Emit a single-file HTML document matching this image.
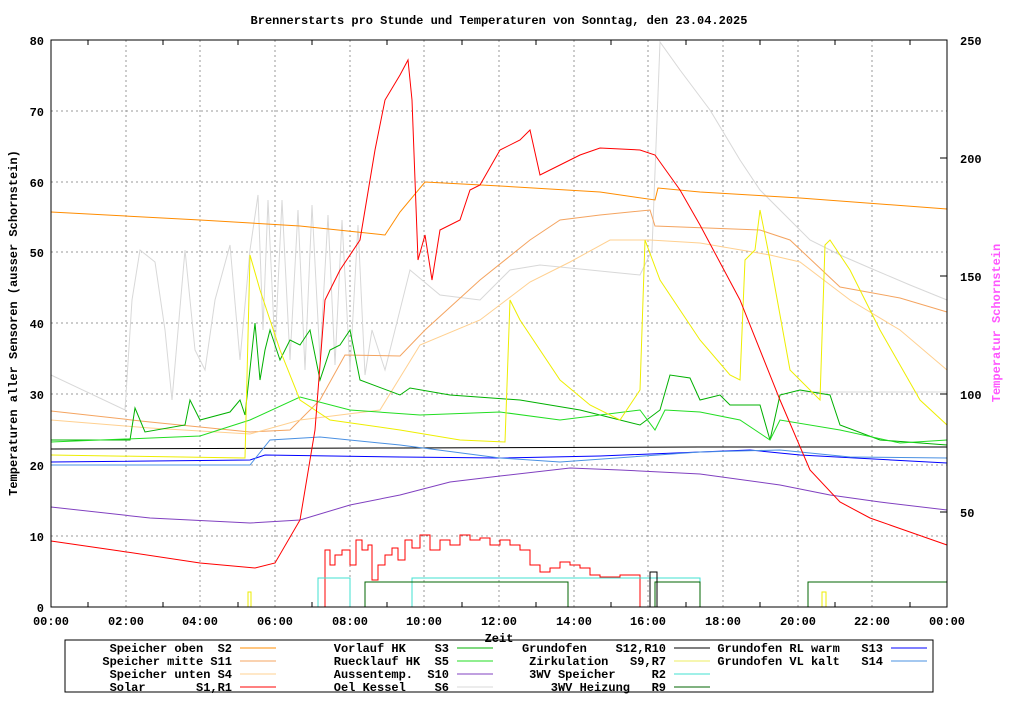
<!DOCTYPE html>
<html><head><meta charset="utf-8"><style>
body{margin:0;background:#fff}
svg text{font-family:"Liberation Mono",monospace;font-weight:bold;font-size:12px;fill:#000;white-space:pre}
</style></head><body>
<svg width="1024" height="700" xmlns="http://www.w3.org/2000/svg" xml:space="preserve">
<rect width="1024" height="700" fill="#fff"/>
<text x="499" y="24" text-anchor="middle">Brennerstarts pro Stunde und Temperaturen von Sonntag, den 23.04.2025</text>
<g stroke="#999" stroke-dasharray="2,3" stroke-width="1">
<line x1="51" y1="536" x2="947" y2="536"/><line x1="51" y1="465" x2="947" y2="465"/><line x1="51" y1="394" x2="947" y2="394"/><line x1="51" y1="323" x2="947" y2="323"/><line x1="51" y1="252" x2="947" y2="252"/><line x1="51" y1="182" x2="947" y2="182"/><line x1="51" y1="111" x2="947" y2="111"/>
<line x1="126" y1="40" x2="126" y2="607"/><line x1="200" y1="40" x2="200" y2="607"/><line x1="275" y1="40" x2="275" y2="607"/><line x1="350" y1="40" x2="350" y2="607"/><line x1="424" y1="40" x2="424" y2="607"/><line x1="499" y1="40" x2="499" y2="607"/><line x1="574" y1="40" x2="574" y2="607"/><line x1="648" y1="40" x2="648" y2="607"/><line x1="723" y1="40" x2="723" y2="607"/><line x1="798" y1="40" x2="798" y2="607"/><line x1="872" y1="40" x2="872" y2="607"/>
</g>
<g fill="none" stroke-width="1">
<polyline stroke="#d8d8d8" points="51,375 125,410 132,300 140,250 155,262 165,330 172,400 185,250 195,350 205,370 215,300 230,245 240,360 250,250 258,195 263,330 268,200 275,350 282,200 290,360 298,210 305,370 312,205 320,360 328,215 335,365 342,220 350,370 358,225 365,375 372,330 385,370 410,270 440,295 480,300 510,270 540,265 590,270 640,275 652,250 660,42 680,70 710,110 740,160 760,190 790,220 810,240 840,255 870,268 910,285 947,300"/>
<polyline stroke="#d8d8d8" points="800,392 947,392"/>
<polyline stroke="#ff8c00" points="51,212 200,220 300,226 385,235 400,212 425,182 500,186 600,192 655,200 658,188 700,192 800,198 947,209"/>
<polyline stroke="#f4a460" points="51,411 150,422 250,432 290,430 320,400 345,355 400,356 425,330 480,280 530,240 560,220 600,215 650,210 655,226 760,230 790,240 840,287 900,298 947,312"/>
<polyline stroke="#ffd090" points="51,420 150,428 250,434 300,420 380,410 420,345 480,320 530,282 570,262 610,240 650,240 700,243 770,255 800,262 850,300 900,330 947,370"/>
<polyline stroke="#00b000" points="51,440 130,440 135,408 145,432 185,425 190,400 200,420 230,412 240,400 245,415 255,323 260,380 265,350 270,330 280,360 290,340 300,345 310,330 320,380 330,350 340,345 350,330 360,380 400,395 410,388 450,395 520,400 580,410 620,420 640,425 660,410 670,375 690,378 700,400 720,395 730,405 760,405 770,440 780,395 800,390 830,395 840,425 880,440 947,445"/>
<polyline stroke="#22dd22" points="51,442 200,436 250,420 300,397 350,410 420,415 500,412 560,420 600,415 640,410 655,430 665,410 700,412 740,420 770,440 780,420 840,430 900,443 947,440"/>
<polyline stroke="#8040c0" points="51,507 150,518 250,523 300,520 350,505 400,495 450,482 500,476 570,468 620,470 700,474 780,485 830,495 880,502 947,510"/>
<polyline stroke="#000" points="51,449 400,448 700,447 947,447"/>
<polyline stroke="#0000ff" points="51,462 250,460 265,455 400,457 500,458 600,456 700,452 750,450 800,455 947,463"/>
<polyline stroke="#4a90e2" points="51,465 250,465 270,440 320,437 400,445 500,458 560,462 700,452 780,450 850,457 947,458"/>
<polyline stroke="#eeee00" points="51,455 245,458 250,255 260,290 280,350 300,400 330,420 400,430 460,440 505,442 510,300 520,320 560,380 590,405 620,420 640,390 645,240 660,280 700,340 730,375 740,380 745,260 755,250 760,210 770,260 790,370 820,400 825,245 830,240 850,270 880,330 920,400 947,425"/>
<polyline stroke="#ff0000" points="51,541 120,551 200,563 255,568 275,563 300,520 315,430 325,300 340,270 360,240 375,150 385,100 400,75 408,60 412,100 418,260 425,235 432,280 440,230 460,220 470,190 480,185 500,150 520,140 530,130 540,175 560,165 580,155 600,148 640,150 655,155 680,190 700,225 740,300 780,400 810,470 840,502 870,518 947,545"/>
<polyline stroke="#ff0000" points="325,607 325,550 330,550 330,565 335,565 335,555 342,555 342,550 350,550 350,565 356,565 356,540 362,540 362,550 368,550 368,545 372,545 372,580 378,580 378,565 385,565 385,555 392,555 392,548 398,548 398,560 405,560 405,540 412,540 412,548 420,548 420,535 430,535 430,550 440,550 440,540 450,540 450,545 460,545 460,535 470,535 470,540 480,540 480,538 490,538 490,545 500,545 500,540 510,540 510,545 520,545 520,550 530,550 530,565 540,565 540,572 550,572 550,568 560,568 560,562 570,562 570,565 580,565 580,568 590,568 590,575 600,575 600,577 620,577 620,575 640,575 640,607"/>
<polyline stroke="#40e0d0" points="318,607 318,578 350,578 350,607 412,607 412,578 700,578 700,607"/>
<polyline stroke="#006400" points="365,607 365,582 568,582 568,607 655,607 655,582 700,582 700,607 808,607 808,582 947,582"/>
<polyline stroke="#000" points="650,607 650,572 657,572 657,607"/>
<polyline stroke="#eeee00" points="248,607 248,592 251,592 251,607 822,607 822,592 826,592 826,607"/>
</g>
<rect x="51" y="40" width="896" height="567" fill="none" stroke="#000"/>
<g stroke="#000">
<line x1="88" y1="607" x2="88" y2="602"/><line x1="163" y1="607" x2="163" y2="602"/><line x1="238" y1="607" x2="238" y2="602"/><line x1="312" y1="607" x2="312" y2="602"/><line x1="387" y1="607" x2="387" y2="602"/><line x1="462" y1="607" x2="462" y2="602"/><line x1="536" y1="607" x2="536" y2="602"/><line x1="611" y1="607" x2="611" y2="602"/><line x1="686" y1="607" x2="686" y2="602"/><line x1="760" y1="607" x2="760" y2="602"/><line x1="835" y1="607" x2="835" y2="602"/><line x1="910" y1="607" x2="910" y2="602"/>
<line x1="88" y1="40" x2="88" y2="45"/><line x1="163" y1="40" x2="163" y2="45"/><line x1="238" y1="40" x2="238" y2="45"/><line x1="312" y1="40" x2="312" y2="45"/><line x1="387" y1="40" x2="387" y2="45"/><line x1="462" y1="40" x2="462" y2="45"/><line x1="536" y1="40" x2="536" y2="45"/><line x1="611" y1="40" x2="611" y2="45"/><line x1="686" y1="40" x2="686" y2="45"/><line x1="760" y1="40" x2="760" y2="45"/><line x1="835" y1="40" x2="835" y2="45"/><line x1="910" y1="40" x2="910" y2="45"/>
<line x1="947" y1="158" x2="940" y2="158"/><line x1="947" y1="276" x2="940" y2="276"/><line x1="947" y1="394" x2="940" y2="394"/><line x1="947" y1="512" x2="940" y2="512"/>
</g>
<g text-anchor="end">
<text x="44" y="45">80</text><text x="44" y="116">70</text><text x="44" y="187">60</text><text x="44" y="257">50</text><text x="44" y="328">40</text><text x="44" y="399">30</text><text x="44" y="470">20</text><text x="44" y="541">10</text><text x="44" y="612">0</text>
</g>
<g>
<text x="960" y="45">250</text><text x="960" y="163">200</text><text x="960" y="281">150</text><text x="960" y="399">100</text><text x="960" y="517">50</text>
</g>
<g text-anchor="middle">
<text x="51" y="625">00:00</text><text x="126" y="625">02:00</text><text x="200" y="625">04:00</text><text x="275" y="625">06:00</text><text x="350" y="625">08:00</text><text x="424" y="625">10:00</text><text x="499" y="625">12:00</text><text x="574" y="625">14:00</text><text x="648" y="625">16:00</text><text x="723" y="625">18:00</text><text x="798" y="625">20:00</text><text x="872" y="625">22:00</text><text x="947" y="625">00:00</text>
<text x="499" y="642">Zeit</text>
</g>
<text transform="translate(17,323) rotate(-90)" text-anchor="middle">Temperaturen aller Sensoren (ausser Schornstein)</text>
<text transform="translate(1000,323) rotate(-90)" text-anchor="middle" style="fill:#ff55ff">Temperatur Schornstein</text>
<rect x="65" y="640" width="868" height="52" fill="none" stroke="#000"/>
<g text-anchor="end">
<text x="232" y="652">Speicher oben  S2</text><text x="232" y="665">Speicher mitte S11</text><text x="232" y="678">Speicher unten S4</text><text x="232" y="691">Solar       S1,R1</text>
<text x="449" y="652">Vorlauf HK    S3</text><text x="449" y="665">Ruecklauf HK  S5</text><text x="449" y="678">Aussentemp.  S10</text><text x="449" y="691">Oel Kessel    S6</text>
<text x="666" y="652">Grundofen    S12,R10</text><text x="666" y="665">Zirkulation   S9,R7</text><text x="666" y="678">3WV Speicher     R2</text><text x="666" y="691">3WV Heizung   R9</text>
<text x="883" y="652">Grundofen RL warm   S13</text><text x="883" y="665">Grundofen VL kalt   S14</text>
</g>
<g stroke-width="1">
<line x1="240" y1="648" x2="276" y2="648" stroke="#ff8c00"/><line x1="240" y1="661" x2="276" y2="661" stroke="#f4a460"/><line x1="240" y1="674" x2="276" y2="674" stroke="#ffd090"/><line x1="240" y1="687" x2="276" y2="687" stroke="#ff0000"/>
<line x1="457" y1="648" x2="493" y2="648" stroke="#00b000"/><line x1="457" y1="661" x2="493" y2="661" stroke="#22dd22"/><line x1="457" y1="674" x2="493" y2="674" stroke="#8040c0"/><line x1="457" y1="687" x2="493" y2="687" stroke="#d8d8d8"/>
<line x1="674" y1="648" x2="710" y2="648" stroke="#000"/><line x1="674" y1="661" x2="710" y2="661" stroke="#eeee60"/><line x1="674" y1="674" x2="710" y2="674" stroke="#40e0d0"/><line x1="674" y1="687" x2="710" y2="687" stroke="#006400"/>
<line x1="891" y1="648" x2="927" y2="648" stroke="#0000ff"/><line x1="891" y1="661" x2="927" y2="661" stroke="#4a90e2"/>
</g>
</svg>
</body></html>
